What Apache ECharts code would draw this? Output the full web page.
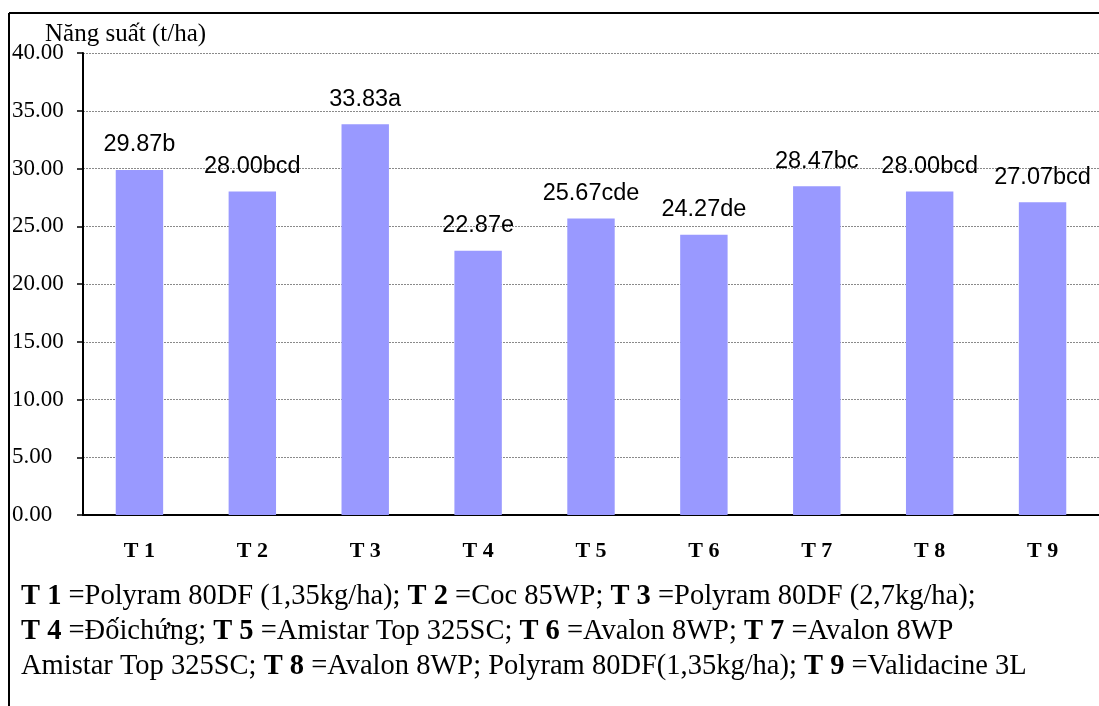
<!DOCTYPE html>
<html>
<head>
<meta charset="utf-8">
<script src="https://cdn.jsdelivr.net/npm/echarts@6/dist/echarts.min.js"></script>
<style>
  html, body { margin: 0; padding: 0; background: #fff; }
  #chart { width: 1099px; height: 706px; }
</style>
</head>
<body>
<div id="chart"></div>
<script>
// Treatments and yield (t/ha) with significance letters
var categories = ['T 1', 'T 2', 'T 3', 'T 4', 'T 5', 'T 6', 'T 7', 'T 8', 'T 9'];
var yields = [29.87, 28.00, 33.83, 22.87, 25.67, 24.27, 28.47, 28.00, 27.07];
var groups = ['b', 'bcd', 'a', 'e', 'cde', 'de', 'bc', 'bcd', 'bcd'];
var yTicks = { min: 0, max: 40, interval: 5 };
var axisTitle = 'Năng suất (t/ha)';

// Treatment key, one array per printed line: [bold code, description]
var keyLine1 = [['T 1', ' =Polyram 80DF (1,35kg/ha); '], ['T 2', ' =Coc 85WP; '], ['T 3', ' =Polyram 80DF (2,7kg/ha);']];
var keyLine2 = [['T 4', ' =Đốichứng; '], ['T 5', ' =Amistar Top 325SC; '], ['T 6', ' =Avalon 8WP; '], ['T 7', ' =Avalon 8WP']];
var keyLine3 = [['', 'Amistar Top 325SC; '], ['T 8', ' =Avalon 8WP; Polyram 80DF(1,35kg/ha); '], ['T 9', ' =Validacine 3L']];

// Vertical middle of each key line
var keyLineY = [597, 632, 667];

var serif = '"Liberation Serif", "Times New Roman", serif';
var sans = '"Liberation Sans", Arial, sans-serif';
var keyFontSize = 28.5;

var keyRich = {
  b: { fontFamily: serif, fontSize: keyFontSize, fontWeight: 'bold', fill: '#000' },
  n: { fontFamily: serif, fontSize: keyFontSize, fill: '#000' }
};

function keyGraphics() {
  return [keyLine1, keyLine2, keyLine3].map(function (line, li) {
    var text = line.map(function (entry) {
      return (entry[0] ? '{b|' + entry[0] + '}' : '') + '{n|' + entry[1] + '}';
    }).join('');
    return {
      type: 'text',
      x: 21,
      y: keyLineY[li],
      style: { text: text, rich: keyRich, verticalAlign: 'middle' }
    };
  });
}

var chart = echarts.init(document.getElementById('chart'));
chart.setOption({
  backgroundColor: '#fff',
  animation: false,
  grid: { left: 83, top: 53, width: 1017, height: 462, containLabel: false },
  xAxis: {
    type: 'category',
    data: categories,
    axisLine: { lineStyle: { color: '#000', width: 2 } },
    axisTick: { inside: true, length: 6, lineStyle: { color: '#000', width: 1.5 } },
    axisLabel: { fontFamily: serif, fontWeight: 'bold', fontSize: 22, color: '#000', margin: 25 }
  },
  yAxis: {
    type: 'value',
    min: yTicks.min,
    max: yTicks.max,
    interval: yTicks.interval,
    axisLine: { show: true, lineStyle: { color: '#000', width: 2 } },
    axisTick: { show: true, length: 6, lineStyle: { color: '#000', width: 1.5 } },
    axisLabel: {
      fontFamily: serif, fontSize: 23, color: '#000', margin: 71, align: 'left',
      formatter: function (v) { return v.toFixed(2); }
    },
    splitLine: { show: true, lineStyle: { color: '#8a8a8a', type: [2, 1], width: 1.2 } }
  },
  series: [{
    type: 'bar',
    data: yields,
    barWidth: '42%',
    itemStyle: { color: '#9999FF' },
    label: {
      show: true,
      position: 'top',
      distance: 13,
      fontFamily: sans,
      fontSize: 23.5,
      color: '#000',
      formatter: function (p) { return p.value.toFixed(2) + groups[p.dataIndex]; }
    }
  }],
  graphic: [
    { type: 'line', shape: { x1: 9, y1: 13, x2: 1099, y2: 13 }, style: { stroke: '#000', lineWidth: 2 } },
    { type: 'line', shape: { x1: 9, y1: 13, x2: 9, y2: 706 }, style: { stroke: '#000', lineWidth: 2 } },
    { type: 'text', x: 45, y: 34, style: { text: axisTitle, font: '25px ' + serif, fill: '#000', verticalAlign: 'middle' } }
  ].concat(keyGraphics())
});
</script>
</body>
</html>
